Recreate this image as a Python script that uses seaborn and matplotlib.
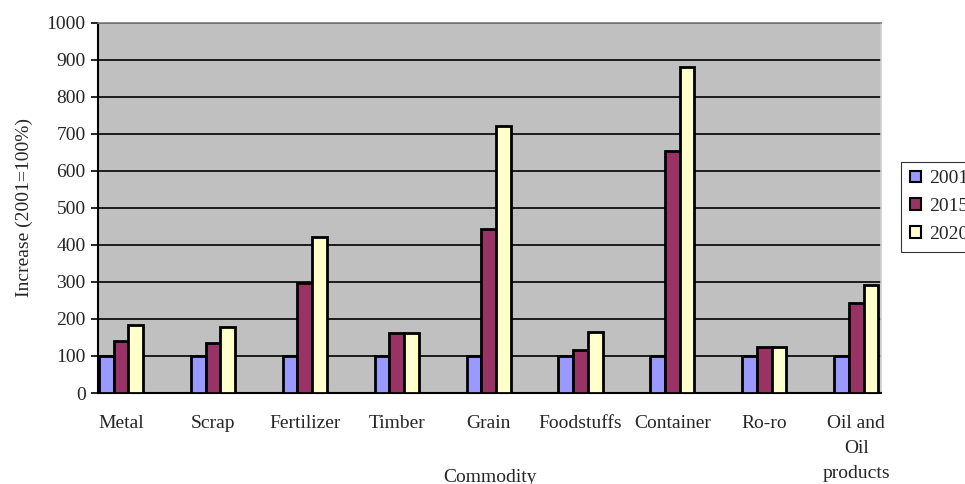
import matplotlib
matplotlib.use("Agg")
import matplotlib.pyplot as plt
import seaborn as sns
import pandas as pd

commodities = ["Metal", "Scrap", "Fertilizer", "Timber", "Grain",
               "Foodstuffs", "Container", "Ro-ro", "Oil and\nOil\nproducts"]
years = ["2001", "2015", "2020"]
values_2001 = [100, 100, 100, 100, 100, 100, 100, 100, 100]
values_2015 = [141, 136, 298, 163, 444, 116, 653, 125, 243]
values_2020 = [185, 179, 421, 163, 720, 164, 880, 125, 293]
year_colors = ["#9999FF", "#993366", "#FFFFCC"]

df = pd.DataFrame({
    "Commodity": commodities * 3,
    "Year": [y for y in years for _ in commodities],
    "Increase": values_2001 + values_2015 + values_2020,
})

sns.set_theme(style="white")
plt.rcParams["font.family"] = ["Liberation Serif", "DejaVu Serif"]

fig = plt.figure(figsize=(9.65, 4.84), dpi=100)
ax = fig.add_axes([0.1016, 0.188, 0.8114, 0.765])
ax.set_facecolor("#C0C0C0")

sns.barplot(data=df, x="Commodity", y="Increase", hue="Year",
            palette=year_colors, width=0.48, gap=0, ax=ax,
            edgecolor="black", linewidth=2.0, saturation=1,
            errorbar=None, legend=False, zorder=3)

ax.set_ylim(0, 1000)
ax.set_xlim(-0.25, 8.27)
ax.set_yticks(range(0, 1001, 100))
ax.yaxis.grid(True, color="black", linewidth=1.2, zorder=0)
ax.set_axisbelow(True)

ax.spines["top"].set_color("#808080")
ax.spines["top"].set_linewidth(1.2)
ax.spines["right"].set_color("#D0D0D0")
ax.spines["right"].set_linewidth(1.2)
ax.spines["left"].set_color("black")
ax.spines["left"].set_linewidth(1.5)
ax.spines["bottom"].set_color("black")
ax.spines["bottom"].set_linewidth(1.5)

ax.tick_params(axis="y", which="both", left=True, length=5, width=1.2,
               direction="out", labelsize=14, color="black", pad=4)
ax.tick_params(axis="x", bottom=False, labelsize=14, pad=10)
for lbl in ax.get_xticklabels():
    lbl.set_verticalalignment("top")
    lbl.set_linespacing(1.6)

ax.set_xlabel("Commodity", fontsize=14)
ax.xaxis.set_label_coords(0.5, -0.205)
ax.set_ylabel("Increase (2001=100%)", fontsize=14, labelpad=10)

handles = [plt.Rectangle((0, 0), 1, 1, facecolor=c, edgecolor="black",
                         linewidth=1.5) for c in year_colors]
leg = fig.legend(handles, years, loc="upper left",
                 bbox_to_anchor=(0.934, 0.666), fontsize=14,
                 frameon=True, fancybox=False, edgecolor="black",
                 handlelength=0.55, handleheight=0.55, handletextpad=0.45,
                 labelspacing=0.55, borderpad=0.45, borderaxespad=0)
leg.get_frame().set_linewidth(0.8)

fig.savefig("out.png", dpi=100, facecolor="white")
